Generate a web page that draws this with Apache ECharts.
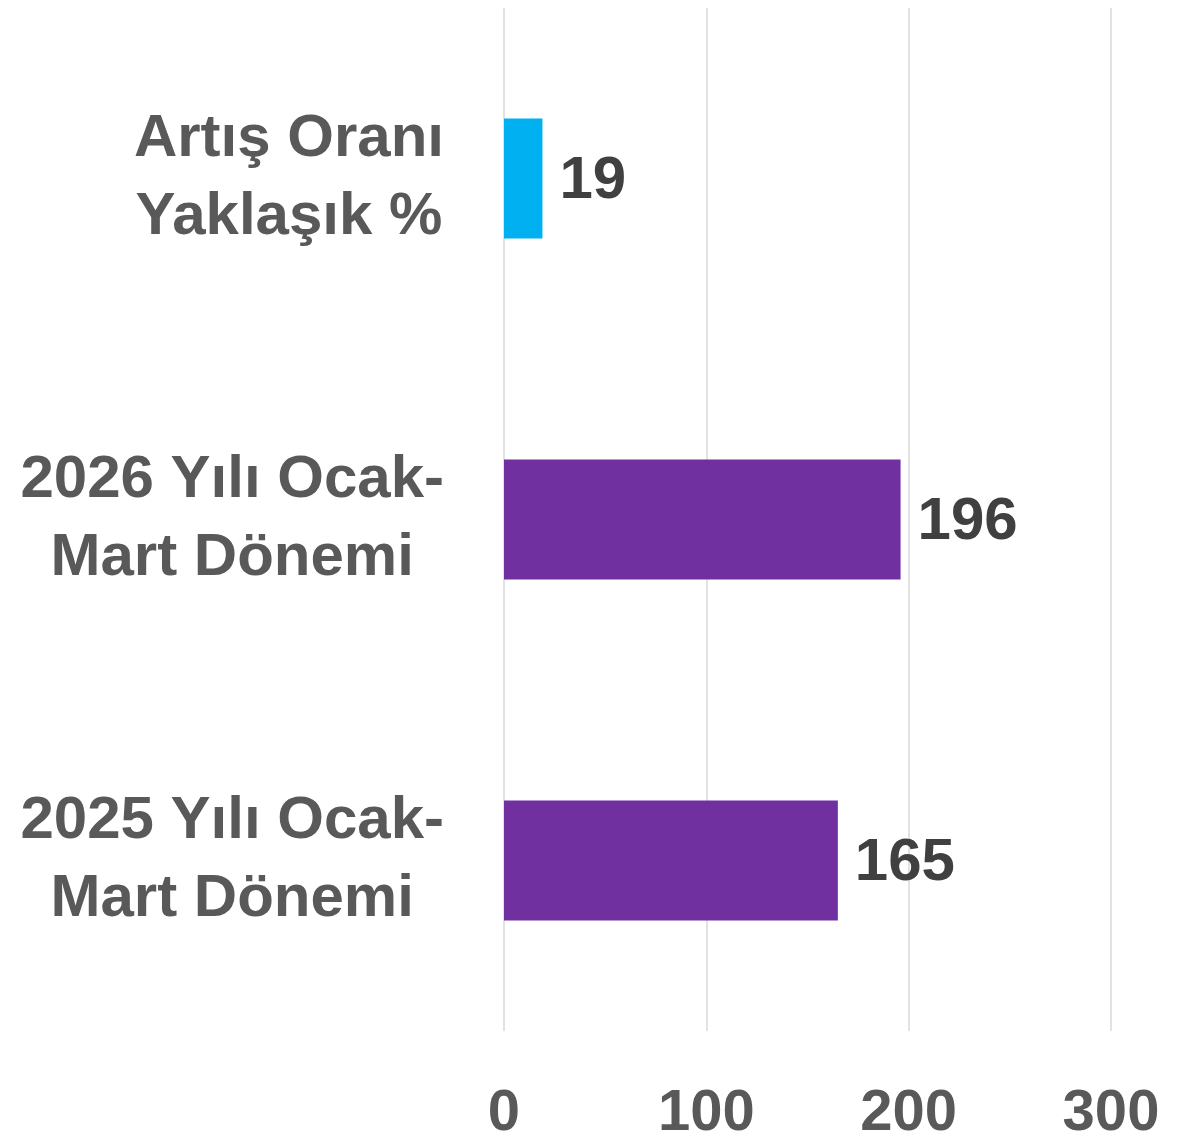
<!DOCTYPE html>
<html>
<head>
<meta charset="utf-8">
<title>Artış Oranı</title>
<script src="https://cdn.jsdelivr.net/npm/echarts@6/dist/echarts.min.js"></script>
<style>
    html, body { margin: 0; padding: 0; background: #fff; }
    #chart { width: 1199px; height: 1139px; }
</style>
</head>
<body>
<div id="chart"></div>
<script>
'use strict'
// kategoriler (alttan üste)
var categories = ['2025 Yılı Ocak-\nMart Dönemi', '2026 Yılı Ocak-\nMart Dönemi', 'Artış Oranı\nYaklaşık %'];
var values = [165, 196, 19];
var barColors = ['#7030A0', '#7030A0', '#00B0F0'];
var xTicks = [0, 100, 200, 300];

chartFun();

function chartFun() {
    let chart = echarts.init(document.getElementById('chart'));
    let data = [];
    for (let i = 0; i < values.length; i++) {
        data.push({ value: values[i], itemStyle: { color: barColors[i] } });
    }
    let option = {
        backgroundColor: '#ffffff',
        animation: false,
        grid: { left: 504, right: 88, top: 8, bottom: 108, outerBoundsMode: 'none' },
        xAxis: {
            type: 'value',
            min: xTicks[0],
            max: xTicks[xTicks.length - 1],
            interval: 100,
            axisLine: { show: false },
            axisTick: { show: false },
            splitLine: { lineStyle: { color: '#d9d9d9', width: 1.5 } },
            axisLabel: {
                margin: 54,
                color: '#595959',
                fontFamily: 'Liberation Sans, Arial, sans-serif',
                fontWeight: 'bold',
                fontSize: 58
            }
        },
        yAxis: {
            type: 'category',
            data: categories,
            axisLine: { show: false },
            axisTick: { show: false },
            axisLabel: {
                margin: 60,
                align: 'right',
                formatter: function (v) {
                    return v.split('\n').map(function (s) { return '{c|' + s + '}'; }).join('\n');
                },
                rich: {
                    c: {
                        align: 'center',
                        color: '#595959',
                        fontFamily: 'Liberation Sans, Arial, sans-serif',
                        fontWeight: 'bold',
                        fontSize: 60,
                        lineHeight: 78
                    }
                }
            }
        },
        series: [{
            type: 'bar',
            barWidth: '35.2%',
            data: data,
            label: {
                show: true,
                position: 'right',
                distance: 17,
                offset: [0, 3],
                color: '#404040',
                fontFamily: 'Liberation Sans, Arial, sans-serif',
                fontWeight: 'bold',
                fontSize: 60
            }
        }]
    };
    chart.setOption(option);
    window.onresize = chart.resize;
}
</script>
</body>
</html>
